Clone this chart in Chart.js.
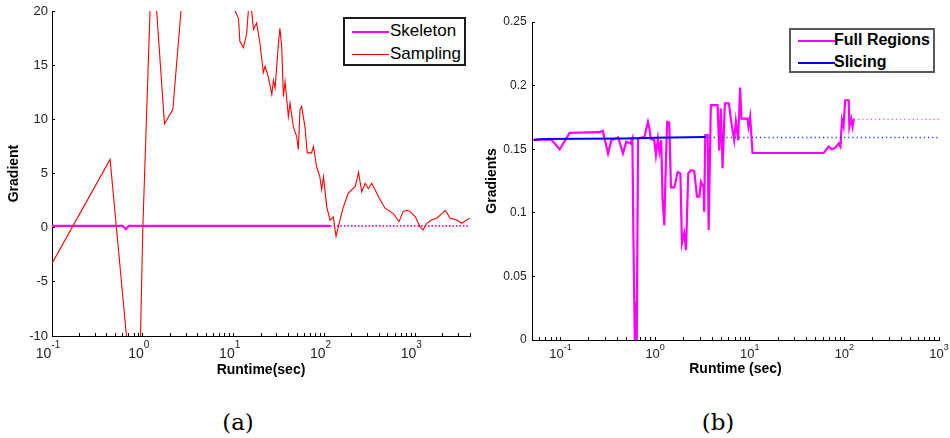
<!DOCTYPE html>
<html lang="en">
<head>
<meta charset="UTF-8">
<title>Gradient vs runtime</title>
<script src="https://cdn.jsdelivr.net/npm/chart.js"></script>
<style>
  body {
    margin: 0;
    width: 950px;
    height: 438px;
    position: relative;
    overflow: hidden;
    background: #fff;
    font-family: 'Liberation Sans', Arial, sans-serif;
  }
  canvas { position: absolute; top: 0; }
  #chartA { left: 0; }
  #chartB { left: 480px; }
  .legend {
    position: absolute;
    background: #fff;
    box-sizing: border-box;
  }
  .legend .row { position: absolute; left: 0; height: 20px; width: 100%; }
  .legend .swatch { position: absolute; left: 7px; width: 37px; top: 10px; }
  .legend .label { position: absolute; top: 0; line-height: 20px; white-space: nowrap; color: #000; }
  #legendA { left: 343px; top: 17px; width: 123px; height: 49px; border: 2px solid #1a1a1a; font-size: 17px; }
  #legendB { left: 789px; top: 28px; width: 146px; height: 45px; border: 2px solid #5a5a5a; font-size: 16px; font-weight: bold; }
  .caption {
    position: absolute;
    top: 408px;
    font-family: 'DejaVu Serif', 'Liberation Serif', serif;
    font-size: 23px;
    line-height: 28px;
    transform: translateX(-50%);
  }
</style>
</head>
<body>
<canvas id="chartA" width="480" height="385"></canvas>
<canvas id="chartB" width="470" height="385"></canvas>

<div class="legend" id="legendA">
  <div class="row" style="top:2px"><div class="swatch" style="border-top:2px solid #ff00ff"></div><span class="label" style="left:45px">Skeleton</span></div>
  <div class="row" style="top:25px"><div class="swatch" style="border-top:1px solid #ff0000"></div><span class="label" style="left:45px">Sampling</span></div>
</div>
<div class="legend" id="legendB">
  <div class="row" style="top:0px"><div class="swatch" style="border-top:2px solid #ff00ff"></div><span class="label" style="left:43px">Full Regions</span></div>
  <div class="row" style="top:22px"><div class="swatch" style="border-top:2px solid #0000ff"></div><span class="label" style="left:43px">Slicing</span></div>
</div>

<div class="caption" style="left:238px">(a)</div>
<div class="caption" style="left:718px">(b)</div>

<script>
// ---- (a) data ----
const samplingRuntime = [0.1, 0.436, 0.75, 0.92, 1.0, 1.2, 1.3, 1.42, 1.73, 2.14, 2.63, 5.0, 10.4, 11.3, 11.7, 12.8, 13.9, 14.5, 15.1, 15.8, 16.5, 17.9, 19.5, 21.2, 22.2, 24.1, 26.3, 27.4, 28.6, 31.1, 32.3, 33.8, 35.3, 36.8, 40, 41.7, 45.4, 49.5, 51.5, 53.8, 56, 61, 64.6, 72, 75.5, 82, 89, 93, 97.5, 106, 115, 125, 134, 148, 161, 183, 218, 237, 257, 280, 304, 331, 360, 408, 464, 504, 573, 662, 735, 806, 875, 1000, 1120, 1220, 1340, 1510, 1730, 1960, 2140, 2410, 2860, 3240, 3690, 4000];
const samplingGradient = [-3.3, 6.3, -15, -14, 0, 20, 26, 20, 9.6, 10.9, 20, 38, 20, 19.3, 17.2, 16.6, 17.9, 20, 21, 20, 18.3, 18.9, 17.0, 14.3, 14.9, 13.9, 12.3, 13.6, 12.9, 17.0, 18.4, 16.7, 12.1, 13.5, 10.25, 11.5, 9.3, 8.4, 7.2, 10.9, 11.2, 9.3, 6.9, 6.9, 7.5, 5.6, 4.7, 3.5, 4.7, 1.9, 0.7, 1.0, -0.8, 0.7, 1.9, 3.2, 3.8, 5.1, 3.3, 4.1, 3.6, 4.1, 3.5, 2.6, 1.8, 1.6, 1.3, 0.55, 1.5, 1.6, 1.5, 1.0, 0.1, -0.2, 0.4, 0.7, 0.9, 1.3, 1.6, 0.9, 0.7, 0.4, 0.7, 0.9];
const skeletonRuntime = [0.1, 0.6, 0.65, 0.7, 115];
const skeletonGradient = [0.17, 0.17, -0.15, 0.17, 0.17];
const skeletonTailRuntime = [115, 4000];
const skeletonTailGradient = [0.17, 0.17];
const decadesA = [-1, 0, 1, 2, 3];
const yLabelsA = ['-10', '-5', '0', '5', '10', '15', '20'];

// ---- (b) data ----
const fullRuntime = [0.052, 0.08, 0.098, 0.125, 0.26, 0.28, 0.318, 0.344, 0.407, 0.457, 0.496, 0.55, 0.575, 0.59, 0.61, 0.63, 0.64, 0.66, 0.77, 0.84, 0.87, 0.9, 0.98, 1.02, 1.07, 1.11, 1.16, 1.2, 1.25, 1.29, 1.34, 1.41, 1.47, 1.6, 1.73, 1.85, 1.92, 2.03, 2.12, 2.24, 2.39, 2.59, 2.77, 2.93, 3.05, 3.25, 3.3, 3.39, 3.59, 3.68, 3.76, 3.88, 4.57, 4.76, 4.95, 5.16, 5.46, 6.03, 6.3, 6.84, 7.13, 7.54, 7.91, 8.18, 9.46, 9.7, 10.1, 10.7, 14.1, 60.6, 68, 74, 80, 87, 90.8, 94.4, 98, 102, 111, 113, 118, 122, 126];
const fullGradient = [0.1576, 0.1576, 0.1498, 0.1628, 0.1634, 0.1644, 0.1467, 0.1571, 0.1592, 0.1467, 0.1558, 0.1545, 0.1584, 0.08, 0.0, 0.03, 0.0, 0.1584, 0.1597, 0.1715, 0.1663, 0.158, 0.1571, 0.1453, 0.158, 0.148, 0.157, 0.11, 0.0903, 0.131, 0.1715, 0.171, 0.12, 0.12, 0.132, 0.131, 0.076, 0.084, 0.0707, 0.131, 0.1335, 0.133, 0.1126, 0.1126, 0.1244, 0.12, 0.1008, 0.161, 0.161, 0.0864, 0.1257, 0.1846, 0.1846, 0.149, 0.182, 0.135, 0.186, 0.186, 0.174, 0.157, 0.172, 0.157, 0.1985, 0.174, 0.174, 0.1676, 0.1754, 0.147, 0.147, 0.147, 0.152, 0.15, 0.151, 0.1545, 0.152, 0.173, 0.168, 0.1885, 0.1885, 0.1676, 0.174, 0.1676, 0.174];
const fullTailRuntime = [126, 1000];
const fullTailGradient = [0.1734, 0.1734];
const slicingRuntime = [0.052, 0.065, 0.5, 1.0, 3.4];
const slicingGradient = [0.1572, 0.158, 0.1585, 0.159, 0.1595];
const slicingTailRuntime = [3.4, 1000];
const slicingTailGradient = [0.1592, 0.1592];
const decadesB = [-1, 0, 1, 2, 3];
const yLabelsB = ['0', '0.05', '0.1', '0.15', '0.2', '0.25'];

const pts = (xs, ys) => xs.map((x, i) => ({ x: x, y: ys[i] }));

// log axis ticks 1..9 x 10^n, like matlab (no 1.5 ticks)
function logTicks(min, max) {
  const out = [];
  for (let e = Math.floor(Math.log10(min)); e <= Math.ceil(Math.log10(max)); e++) {
    for (let m = 1; m < 10; m++) {
      const v = +(m * Math.pow(10, e)).toPrecision(6);
      if (v >= min * 0.999 && v <= max * 1.001) out.push({ value: v, major: m === 1 });
    }
  }
  return out;
}

// draws 10^n labels with a raised exponent
const decadeLabels = {
  id: 'decadeLabels',
  afterDraw(chart, args, o) {
    const s = chart.scales.x, ctx = chart.ctx;
    ctx.save();
    ctx.fillStyle = '#222';
    ctx.textBaseline = 'alphabetic';
    ctx.textAlign = 'left';
    o.decades.forEach(e => {
      const x = s.getPixelForValue(Math.pow(10, e)) + o.shift;
      ctx.font = o.size + "px 'Liberation Sans', Arial, sans-serif";
      const w1 = ctx.measureText('10').width;
      ctx.font = o.expSize + "px 'Liberation Sans', Arial, sans-serif";
      const w2 = ctx.measureText(String(e)).width;
      const left = x - (w1 + w2) / 2;
      ctx.font = o.size + "px 'Liberation Sans', Arial, sans-serif";
      ctx.fillText('10', left, o.baseline);
      ctx.font = o.expSize + "px 'Liberation Sans', Arial, sans-serif";
      ctx.fillText(String(e), left + w1, o.baseline - o.rise);
    });
    ctx.restore();
  }
};

const axisGrid = { drawOnChartArea: false, drawTicks: true, tickLength: -3, tickColor: '#000', color: '#000' };
const axisBorder = { display: true, color: '#000', width: 1 };
const tickFont = { family: "'Liberation Sans', Arial, sans-serif", size: 13 };
const titleFont = { family: "'Liberation Sans', Arial, sans-serif", size: 14, weight: 'bold' };

function lineSet(label, data, color, width, dash) {
  return {
    label: label, data: data, borderColor: color, backgroundColor: color,
    borderWidth: width, borderDash: dash || [], pointRadius: 0, tension: 0, fill: false
  };
}

new Chart(document.getElementById('chartA'), {
  type: 'line',
  data: {
    datasets: [
      lineSet('Sampling', pts(samplingRuntime, samplingGradient), '#ff0000', 1.1),
      lineSet('Skeleton', pts(skeletonRuntime, skeletonGradient), '#ff00ff', 2.2),
      lineSet('Skeleton (end)', pts(skeletonTailRuntime, skeletonTailGradient), '#ff00ff', 1.6, [1.5, 2])
    ]
  },
  options: {
    responsive: false,
    animation: false,
    layout: { padding: { top: 11, right: 10, left: 0, bottom: 0 } },
    plugins: {
      legend: { display: false },
      tooltip: { enabled: false },
      decadeLabels: { decades: decadesA, shift: -4, size: 14, expSize: 10, baseline: 358, rise: 10 }
    },
    scales: {
      x: {
        type: 'logarithmic', min: 0.1, max: 4000,
        grid: axisGrid, border: axisBorder,
        ticks: { display: false },
        afterBuildTicks: s => { s.ticks = logTicks(s.min, s.max); },
        afterFit: s => { s.height = 49; s.paddingLeft = 0; s.paddingRight = 0; },
        title: { display: true, text: 'Runtime(sec)', color: '#000', font: titleFont, padding: { top: 0, bottom: 6.6 } }
      },
      y: {
        min: -10, max: 20,
        grid: axisGrid, border: axisBorder,
        ticks: { stepSize: 5, color: '#222', font: tickFont, padding: 7, callback: (v, i) => yLabelsA[i] },
        afterFit: s => { s.width = 52; s.paddingTop = 0; s.paddingBottom = 0; },
        title: { display: true, text: 'Gradient', color: '#000', font: titleFont, padding: { top: 5.6, bottom: 0 } }
      }
    }
  },
  plugins: [decadeLabels]
});

new Chart(document.getElementById('chartB'), {
  type: 'line',
  data: {
    datasets: [
      lineSet('Slicing', pts(slicingRuntime, slicingGradient), '#0000ff', 2),
      lineSet('Slicing (end)', pts(slicingTailRuntime, slicingTailGradient), '#2233ff', 1.3, [1.2, 3]),
      lineSet('Full Regions', pts(fullRuntime, fullGradient), '#ff00ff', 2.2),
      lineSet('Full Regions (end)', pts(fullTailRuntime, fullTailGradient), '#ff44ff', 1.3, [1.2, 3])
    ]
  },
  options: {
    responsive: false,
    animation: false,
    layout: { padding: { top: 22, right: 11, left: 0, bottom: 0 } },
    plugins: {
      legend: { display: false },
      tooltip: { enabled: false },
      decadeLabels: { decades: decadesB, shift: 0, size: 13, expSize: 9, baseline: 358, rise: 8 }
    },
    scales: {
      x: {
        type: 'logarithmic', min: 0.05, max: 1000,
        grid: axisGrid, border: axisBorder,
        ticks: { display: false },
        afterBuildTicks: s => { s.ticks = logTicks(s.min, s.max); },
        afterFit: s => { s.height = 45; s.paddingLeft = 0; s.paddingRight = 0; },
        title: { display: true, text: 'Runtime (sec)', color: '#000', font: titleFont, padding: { top: 0, bottom: 7 } }
      },
      y: {
        min: 0, max: 0.25,
        grid: axisGrid, border: axisBorder,
        ticks: { stepSize: 0.05, color: '#222', font: { family: tickFont.family, size: 12 }, padding: 8.3, callback: (v, i) => yLabelsB[i] },
        afterFit: s => { s.width = 52; s.paddingTop = 0; s.paddingBottom = 0; },
        title: { display: true, text: 'Gradients', color: '#000', font: titleFont, padding: { top: 3.3, bottom: 0 } }
      }
    }
  },
  plugins: [decadeLabels]
});
</script>
</body>
</html>
